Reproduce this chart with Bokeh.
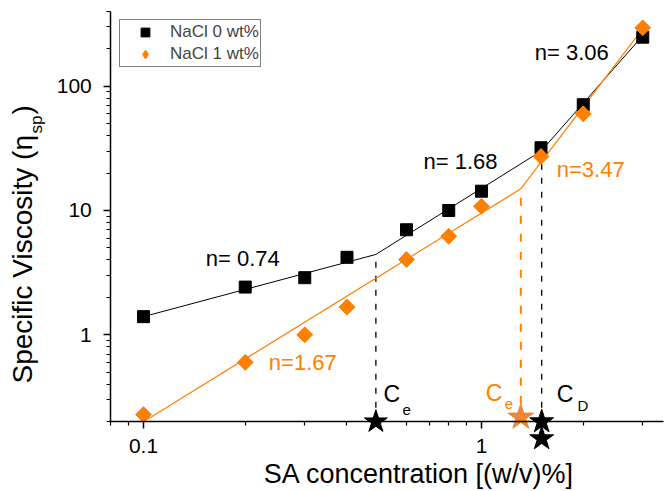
import math
from bokeh.plotting import figure
from bokeh.models import (FixedTicker, CustomJSTickFormatter, Label, Legend,
                          LegendItem, Range1d)
from bokeh.embed import file_html
from bokeh.resources import INLINE

FONT = "Liberation Sans"
BLACK = "#000000"
ORANGE = "#FF8000"
STAR_ORANGE = "#EF8535"

# ---- data -------------------------------------------------------------
conc = [0.1, 0.2, 0.3, 0.4, 0.6, 0.8, 1.0, 1.5, 2.0, 3.0]
eta_nacl0 = [1.40, 2.42, 2.88, 4.2, 7.0, 10.0, 14.3, 32.0, 71.0, 248.0]
eta_nacl1 = [0.228, 0.60, 1.0, 1.67, 4.03, 6.2, 10.8, 27.2, 60.0, 295.0]

fit0_x = [0.1, 0.487, 1.5, 3.0]
fit0_y = [1.40, 4.43, 30.0, 255.0]
fit1_x = [0.1, 1.307, 3.0]
fit1_y = [0.2, 14.95, 290.0]

x_lo, x_hi = 0.08, 3.46          # visible x axis extent
y_lo, y_hi = 0.2, 400            # visible y axis extent
ce0_x, ce0_top = 0.487, 4.43
ce1_x, ce1_top = 1.307, 14.95
cd0_x, cd0_top = 1.507, 24.0

star_x = [0.487, 1.307, 1.507, 1.507]
star_y = [0.2, 0.217, 0.2, 0.146]
star_color = [BLACK, STAR_ORANGE, BLACK, BLACK]
star_size = [24, 27, 25, 25]

slope_text = ["n= 0.74", "n= 1.68", "n= 3.06", "n=1.67", "n=3.47"]
slope_x = [0.1528, 0.674, 1.438, 0.2349, 1.67]
slope_y = [3.48, 20.98, 158.9, 0.507, 18.1]
slope_color = [BLACK, BLACK, BLACK, ORANGE, ORANGE]

x_major = [0.1, 1]
x_minor = [0.08, 0.09, 0.2, 0.3, 0.4, 0.5, 0.6, 0.7, 0.8, 0.9, 2, 3]
y_major = [1, 10, 100]
y_minor = [0.2, 0.3, 0.4, 0.5, 0.6, 0.7, 0.8, 0.9,
           2, 3, 4, 5, 6, 7, 8, 9,
           20, 30, 40, 50, 60, 70, 80, 90,
           200, 300, 400]

# ---- figure (frame covers the whole canvas; axes sit at fixed spots) ----
p = figure(width=671, height=491, x_axis_type="log", y_axis_type="log",
           x_range=Range1d(0.03775, 3.649), y_range=Range1d(0.05486, 489.2),
           output_backend="svg", toolbar_location=None,
           min_border=0, min_border_left=0, min_border_right=0,
           min_border_top=0, min_border_bottom=0)
p.outline_line_color = None
p.grid.visible = False
p.background_fill_color = "white"
p.border_fill_color = "white"

fmt = CustomJSTickFormatter(code="return tick.toString()")

xa = p.xaxis[0]
xa.fixed_location = y_lo
xa.bounds = (x_lo, x_hi)
xa.ticker = FixedTicker(ticks=x_major, minor_ticks=x_minor)
ya = p.yaxis[0]
ya.fixed_location = x_lo
ya.bounds = (y_lo, y_hi)
ya.ticker = FixedTicker(ticks=y_major, minor_ticks=y_minor)

for ax in (xa, ya):
    ax.formatter = fmt
    ax.major_label_text_font = FONT
    ax.major_label_text_font_size = "21px"
    ax.major_label_text_color = BLACK
    ax.axis_line_width = 1.5
    ax.axis_line_color = BLACK
    ax.major_tick_line_width = 1.5
    ax.minor_tick_line_width = 1.2
    ax.major_tick_in = 0
    ax.major_tick_out = 7
    ax.minor_tick_in = 0
    ax.minor_tick_out = 4
xa.major_label_standoff = 10
ya.major_label_standoff = 12

# ---- dashed guide lines ----------------------------------------------
p.segment(x0=[ce0_x, cd0_x], y0=[y_lo, y_lo], x1=[ce0_x, cd0_x],
          y1=[ce0_top, cd0_top], line_color=BLACK, line_width=1.3,
          line_dash="6 8")
p.segment(x0=[ce1_x], y0=[y_lo], x1=[ce1_x], y1=[ce1_top],
          line_color=ORANGE, line_width=2, line_dash="8 10")

# ---- fit lines ---------------------------------------------------------
p.line(fit0_x, fit0_y, line_color=BLACK, line_width=1)
p.line(fit1_x, fit1_y, line_color=ORANGE, line_width=1.2)

# ---- data points -------------------------------------------------------
r0 = p.scatter(conc, eta_nacl0, marker="square", size=12,
               fill_color=BLACK, line_color=BLACK)
r1_leg = p.scatter(conc, eta_nacl1, marker="diamond", size=15,
                   fill_color=ORANGE, line_color=ORANGE)
p.scatter(conc, eta_nacl1, marker="square", angle=math.pi / 4, size=11.2,
          fill_color=ORANGE, line_color=ORANGE)

# ---- stars -------------------------------------------------------------
p.scatter(star_x, star_y, marker="star", size=star_size,
          fill_color=star_color, line_color=star_color)

# ---- text annotations ----------------------------------------------------
def add_text(x, y, t, c, px, angle=0.0, align="left", x_offset=0):
    shift = 0.4 * px   # compensate the renderer's baseline placement
    if angle:
        xo, yo = x_offset - shift, 0
    else:
        xo, yo = x_offset, shift
    p.add_layout(Label(x=x, y=y, text=t, text_color=c, text_font=FONT,
                       text_font_size=f"{px}px", text_align=align,
                       text_baseline="alphabetic", angle=angle,
                       x_offset=xo, y_offset=yo))

for t, x, y, c in zip(slope_text, slope_x, slope_y, slope_color):
    add_text(x, y, t, c, 22)

add_text(0.513, 0.280, "C", BLACK, 23)
add_text(0.584, 0.221, "e", BLACK, 15)
add_text(1.03, 0.285, "C", ORANGE, 23)
add_text(1.172, 0.246, "e", ORANGE, 15)
add_text(1.67, 0.280, "C", BLACK, 23)
add_text(1.923, 0.241, "D", BLACK, 15)

# x axis title
add_text(0.654, 0.0618, "SA concentration [(w/v)%]", BLACK, 27,
         align="center")
# y axis title with subscript
add_text(x_lo, 0.4057, "Specific Viscosity (η", BLACK, 28,
         angle=math.pi / 2, x_offset=-77)
add_text(x_lo, 41.6, "sp", BLACK, 17, angle=math.pi / 2, x_offset=-67)
add_text(x_lo, 59.2, ")", BLACK, 28, angle=math.pi / 2, x_offset=-77)

# ---- legend ------------------------------------------------------------
legend = Legend(items=[LegendItem(label="NaCl 0 wt%", renderers=[r0]),
                       LegendItem(label="NaCl 1 wt%", renderers=[r1_leg])],
                location=(119, 424), margin=0, padding=1, spacing=-1,
                glyph_width=48, glyph_height=22, label_height=18,
                label_standoff=1, label_text_font=FONT,
                label_text_font_size="17px", border_line_color=BLACK,
                border_line_width=1, background_fill_color="white",
                background_fill_alpha=1)
p.add_layout(legend)

open("out.html", "w").write(file_html(p, INLINE))
